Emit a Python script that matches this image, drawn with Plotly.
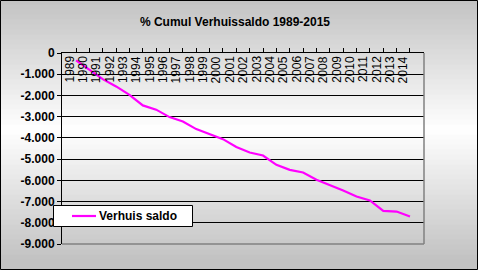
import plotly.graph_objects as go

years = [str(y) for y in range(1989, 2015)]
saldo = [-350, -790, -1230, -1575, -1970, -2470, -2670, -3020, -3225, -3585,
         -3805, -4060, -4430, -4690, -4830, -5270, -5505, -5630, -5975, -6210,
         -6480, -6765, -6950, -7440, -7470, -7705]
y_tickvals = [0, -1000, -2000, -3000, -4000, -5000, -6000, -7000, -8000, -9000]
y_ticktext = ["0", "-1.000", "-2.000", "-3.000", "-4.000", "-5.000",
              "-6.000", "-7.000", "-8.000", "-9.000"]
title_text = "% Cumul Verhuissaldo 1989-2015"
series_name = "Verhuis saldo"
line_color = "#ff00ff"

W, H = 478, 270
L, R, T, B = 62, 54, 53, 26
pw, ph = W - L - R, H - T - B

FONT = "Liberation Sans, Arial, sans-serif"


def px_x(px):
    return (px - L) / pw


def px_y(py):
    return (H - B - py) / ph


fig = go.Figure()
fig.add_trace(go.Scatter(
    x=list(range(len(years))), y=saldo, mode="lines", name=series_name,
    line=dict(color=line_color, width=2.2), showlegend=False,
))

shapes = []
# vertical gradient background (gray - white - gray)
n = 54
for i in range(n):
    y0p = i * H / n
    y1p = (i + 1) * H / n
    yc = (y0p + y1p) / 2
    t = 1 - abs(yc - 130) / 130
    t = max(0.0, min(1.0, t))
    c = int(round(194 + (255 - 194) * t))
    shapes.append(dict(
        type="rect", xref="paper", yref="paper", layer="below",
        x0=px_x(0), x1=px_x(W),
        y0=px_y(y1p), y1=px_y(y0p) + 0.002,
        fillcolor=f"rgb({c},{c},{c})", line=dict(width=0),
    ))
# gray right and bottom border of plot area
shapes.append(dict(type="line", xref="paper", yref="paper", x0=0, x1=1, y0=0, y1=0,
                   line=dict(color="#808080", width=1.5), layer="above"))
shapes.append(dict(type="line", xref="paper", yref="paper", x0=1, x1=1, y0=0, y1=1,
                   line=dict(color="#808080", width=1.5), layer="above"))
# legend box
shapes.append(dict(type="rect", xref="paper", yref="paper", layer="above",
                   x0=px_x(53.5), x1=px_x(192.5), y0=px_y(226.5), y1=px_y(205.5),
                   fillcolor="white", line=dict(color="black", width=1)))
shapes.append(dict(type="line", xref="paper", yref="paper", layer="above",
                   x0=px_x(72), x1=px_x(96), y0=px_y(216), y1=px_y(216),
                   line=dict(color=line_color, width=2.2)))
# outer black frame
shapes.append(dict(type="rect", xref="paper", yref="paper", layer="above",
                   x0=px_x(0.5), x1=px_x(W - 0.5),
                   y0=px_y(H - 0.5), y1=px_y(0.5),
                   line=dict(color="black", width=1)))

annotations = []
for i, yr in enumerate(years):
    annotations.append(dict(
        x=i, xref="x", y=1, yref="paper", text=yr, showarrow=False,
        textangle=-90, xanchor="center", yanchor="top", xshift=-7, yshift=-1,
        font=dict(size=12, family=FONT, color="black"),
    ))
annotations.append(dict(
    x=px_x(97), xref="paper", y=px_y(216), yref="paper", text="<b>" + series_name + "</b>",
    showarrow=False, xanchor="left", yanchor="middle",
    font=dict(size=12, family=FONT, color="black"),
))

fig.update_layout(
    width=W, height=H,
    margin=dict(l=L, r=R, t=T, b=B),
    paper_bgcolor="white",
    plot_bgcolor="#c0c0c0",
    font=dict(family=FONT, color="black"),
    title=dict(text="<b>" + title_text + "</b>", x=235 / W, xanchor="center",
               y=1 - 22 / H, yanchor="middle", font=dict(size=12, family=FONT)),
    showlegend=False,
    shapes=shapes,
    annotations=annotations,
    xaxis=dict(
        range=[-1.05, len(years) + 0.05],
        side="top",
        tickmode="array", tickvals=list(range(len(years))),
        showticklabels=False,
        ticks="outside", ticklen=4, tickcolor="black", tickwidth=1,
        showgrid=False, zeroline=False,
        showline=True, linecolor="black", linewidth=1,
        fixedrange=True,
    ),
    yaxis=dict(
        range=[-9000, 0],
        tickmode="array", tickvals=y_tickvals, ticktext=y_ticktext,
        ticks="outside", ticklen=4, tickcolor="black", tickwidth=1,
        tickfont=dict(size=12, family=FONT, weight="bold"),
        showgrid=True, gridcolor="black", gridwidth=1,
        zeroline=False,
        showline=True, linecolor="black", linewidth=1,
        fixedrange=True,
    ),
)

fig.write_html("out.html")
